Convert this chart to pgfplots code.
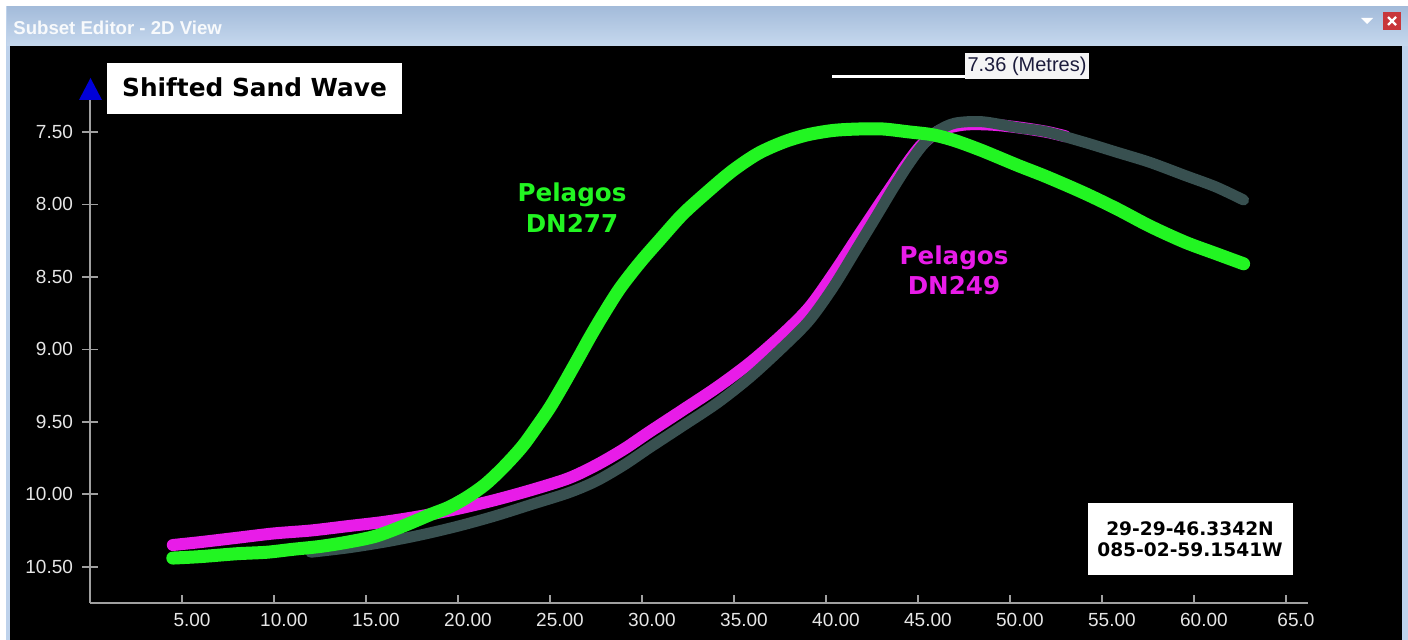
\documentclass[border=0pt]{standalone}
\usepackage{pgfplots}
\usepackage{pgfplotstable}
\pgfplotsset{compat=1.18}
\usepackage{fontspec}
\setmainfont{Liberation Sans}
\newfontfamily\dv{DejaVu Sans}
\definecolor{cgreen}{RGB}{34,245,34}
\definecolor{cmag}{RGB}{232,28,232}
\definecolor{cgray}{RGB}{56,80,80}
\definecolor{titletop}{RGB}{164,188,218}
\definecolor{titlebot}{RGB}{198,216,238}
\definecolor{framebl}{RGB}{190,210,235}
\definecolor{axgray}{RGB}{160,160,160}
\definecolor{ticklab}{RGB}{230,230,230}
\definecolor{closered}{RGB}{200,54,58}
\definecolor{navy}{RGB}{28,28,60}

\pgfplotstableread{
x d
4.5 10.44
6 10.43
8 10.41
9.6 10.40
11 10.38
12.5 10.36
14 10.33
15.5 10.29
17 10.22
18.5 10.14
19.5 10.09
20.5 10.02
21.5 9.93
22.5 9.81
23.5 9.67
24.3 9.53
25 9.40
25.7 9.25
26.5 9.07
27.2 8.91
27.9 8.76
28.8 8.58
29.9 8.40
31 8.24
32.2 8.07
33.5 7.92
34.9 7.77
36.3 7.65
37.7 7.57
39 7.52
40.4 7.49
41.8 7.48
43.1 7.48
44.5 7.50
45.8 7.52
47 7.56
48.5 7.63
50.4 7.73
52 7.81
54 7.92
55.8 8.03
57.6 8.15
59.5 8.26
61.2 8.34
62.7 8.41
}\greendata

\pgfplotstableread{
x d
4.5 10.35
6 10.33
8 10.30
10 10.27
12 10.25
14 10.22
16 10.19
18 10.15
20 10.10
22 10.04
24 9.97
26 9.89
27.5 9.80
29 9.69
30.4 9.57
32.2 9.42
34.1 9.26
35.9 9.09
37.7 8.89
39.1 8.71
40.4 8.48
41.7 8.23
42.8 8.02
43.6 7.87
44.4 7.72
45.2 7.59
46.2 7.49
47.5 7.45
49 7.45
50.5 7.47
52 7.50
53 7.53
}\magdata

\pgfplotstableread{
x d
12 10.40
14 10.37
16 10.33
18 10.28
20 10.22
22 10.15
24 10.07
26 9.99
27.5 9.91
29 9.80
30.4 9.68
32.2 9.53
34.1 9.37
35.9 9.19
37.7 8.98
39.1 8.80
40.4 8.57
41.7 8.30
42.8 8.07
43.6 7.90
44.4 7.74
45.2 7.60
46 7.50
47 7.44
48.5 7.43
50.4 7.47
52 7.50
54 7.57
55.8 7.64
57.6 7.71
59.5 7.80
61.2 7.88
62.7 7.97
}\graydata

\begin{document}
\begin{tikzpicture}
\begin{scope}[x=0.5pt,y=-0.5pt]
\useasboundingbox (0,0) rectangle (1408,640);
\fill[white] (0,0) rectangle (1408,640);
\fill[framebl] (6,6) rectangle (1408,640);
\shade[top color=titletop,bottom color=titlebot] (7,7) rectangle (1408,46);
\fill[black] (10,46) rectangle (1402,640);
\node[anchor=base west, text=white!92!titletop, font=\bfseries\fontsize{9.3}{11}\selectfont, inner sep=0pt] at (13,35) {Subset Editor - 2D View};
\fill[closered] (1383,12) rectangle (1401,30);
\draw[white, line width=1.2pt] (1388,17) -- (1396,25) (1396,17) -- (1388,25);
\fill[white] (1361,18) -- (1373,18) -- (1367,24) -- cycle;
\end{scope}

\begin{axis}[
  at={(45pt,-301.5pt)}, anchor=south west,
  scale only axis, width=609pt, height=251.5pt,
  xmin=0, xmax=66.2, ymin=-10.75, ymax=-7.28,
  axis lines=left,
  axis line style={draw=axgray, line width=1pt, -},
  xtick={5,10,15,20,25,30,35,40,45,50,55,60,65},
  xticklabels={5.00,10.00,15.00,20.00,25.00,30.00,35.00,40.00,45.00,50.00,55.00,60.00,65.0},
  ytick={-10.5,-10,-9.5,-9,-8.5,-8,-7.5},
  yticklabels={10.50,10.00,9.50,9.00,8.50,8.00,7.50},
  tick style={draw=axgray, line width=0.8pt},
  major tick length=8pt,
  ytick align=center,
  xtick align=inside,
  xtick style={/pgfplots/major tick length=4pt},
  ticklabel style={text=ticklab, font=\fontsize{9.5}{11}\selectfont},
  xticklabel style={xshift=5pt, yshift=-1.5pt},
  yticklabel style={anchor=east, xshift=-1pt},
  /pgf/number format/assume math mode=true,
  clip=false,
]
\addplot[draw=cmag, line width=6pt, line cap=round, line join=round, smooth] table[x=x, y expr=-\thisrow{d}] {\magdata};
\addplot[draw=cgray, line width=5.5pt, line cap=round, line join=round, smooth] table[x=x, y expr=-\thisrow{d}] {\graydata};
\addplot[draw=cgreen, line width=6.5pt, line cap=round, line join=round, smooth] table[x=x, y expr=-\thisrow{d}] {\greendata};
\end{axis}

\begin{scope}[x=0.5pt,y=-0.5pt]
\fill[blue!85!black] (79,100) -- (102,100) -- (90.5,78) -- cycle;
\fill[white] (107,63) rectangle (402,114);
\node[font=\dv\bfseries\fontsize{12.4}{14}\selectfont, text=black, inner sep=0pt, anchor=base] at (254.5,97) {Shifted Sand Wave};
\draw[white, line width=1.5pt] (832,77) -- (966,77);
\fill[gray!8] (965,53) rectangle (1089,79);
\node[font=\fontsize{10}{12}\selectfont, text=navy, inner sep=0pt, anchor=base] at (1027,72) {7.36 (Metres)};
\fill[white] (1088,503) rectangle (1293,575);
\node[font=\dv\bfseries\fontsize{9.3}{11}\selectfont, text=black, inner sep=0pt, anchor=base] at (1190,536) {29-29-46.3342N};
\node[font=\dv\bfseries\fontsize{9.3}{11}\selectfont, text=black, inner sep=0pt, anchor=base] at (1190,557) {085-02-59.1541W};
\node[font=\dv\bfseries\fontsize{12.3}{14}\selectfont, text=cgreen, inner sep=0pt, anchor=base] at (572,202) {Pelagos};
\node[font=\dv\bfseries\fontsize{12.3}{14}\selectfont, text=cgreen, inner sep=0pt, anchor=base] at (572,233) {DN277};
\node[font=\dv\bfseries\fontsize{12.3}{14}\selectfont, text=cmag, inner sep=0pt, anchor=base] at (954,265) {Pelagos};
\node[font=\dv\bfseries\fontsize{12.3}{14}\selectfont, text=cmag, inner sep=0pt, anchor=base] at (954,295) {DN249};
\end{scope}
\end{tikzpicture}
\end{document}
